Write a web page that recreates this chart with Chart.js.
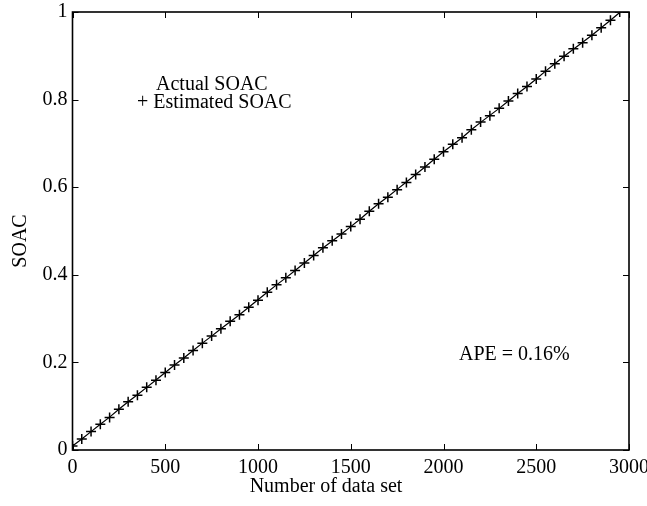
<!DOCTYPE html>
<html>
<head>
<meta charset="utf-8">
<script src="https://cdn.jsdelivr.net/npm/chart.js@4/dist/chart.umd.min.js"></script>
<style>
  html, body { margin: 0; padding: 0; background: #fff; }
  canvas { display: block; }
</style>
</head>
<body>
<canvas id="c" width="647" height="506"></canvas>
<script>
// ---- data ----
const dataSetNumber = [0,50,100,150,200,250,300,350,400,450,500,550,600,650,700,750,800,850,900,950,
  1000,1050,1100,1150,1200,1250,1300,1350,1400,1450,1500,1550,1600,1650,1700,1750,1800,1850,1900,1950,
  2000,2050,2100,2150,2200,2250,2300,2350,2400,2450,2500,2550,2600,2650,2700,2750,2800,2850,2900,2950];
const actualSOAC = [0.009,0.025,0.042,0.059,0.075,0.093,0.110,0.126,0.143,0.160,0.177,0.194,0.210,0.227,0.244,0.260,0.277,0.293,0.309,0.326,
  0.343,0.360,0.377,0.393,0.410,0.427,0.444,0.461,0.477,0.493,0.510,0.527,0.545,0.562,0.578,0.595,0.612,0.629,0.646,0.664,
  0.681,0.697,0.713,0.731,0.748,0.764,0.780,0.797,0.814,0.830,0.847,0.865,0.882,0.899,0.915,0.931,0.947,0.964,0.981,0.999];
const estimatedSOAC = [0.009,0.025,0.042,0.059,0.074,0.093,0.110,0.125,0.143,0.159,0.177,0.194,0.210,0.227,0.244,0.260,0.277,0.294,0.309,0.326,
  0.342,0.360,0.377,0.393,0.410,0.427,0.444,0.462,0.478,0.493,0.510,0.527,0.545,0.562,0.577,0.594,0.611,0.629,0.646,0.664,
  0.681,0.698,0.713,0.731,0.749,0.763,0.780,0.797,0.814,0.830,0.847,0.865,0.882,0.899,0.916,0.930,0.947,0.964,0.981,1.000];
const xTickValues = [0,500,1000,1500,2000,2500,3000];
const yTickValues = [0,0.2,0.4,0.6,0.8,1];
const seriesNames = ['Actual SOAC', 'Estimated SOAC'];
const xTitle = 'Number of data set';
const yTitle = 'SOAC';
const apeText = 'APE = 0.16%';

const FONT = "'Liberation Serif', 'Times New Roman', serif";
const FS = 20;

const toXY = (ys) => dataSetNumber.map((x, i) => ({ x: x, y: ys[i] }));

const boxPlugin = {
  id: 'boxTicks',
  afterDatasetsDraw(chart) {
    const { ctx, chartArea: a, scales } = chart;
    ctx.save();
    ctx.strokeStyle = '#000';
    ctx.lineWidth = 1.6;
    ctx.strokeRect(a.left, a.top, a.right - a.left, a.bottom - a.top);
    ctx.lineWidth = 1;
    const L = 6;
    ctx.beginPath();
    xTickValues.forEach(v => {
      const px = Math.round(scales.x.getPixelForValue(v)) + 0.5;
      ctx.moveTo(px, a.bottom); ctx.lineTo(px, a.bottom - L);
      ctx.moveTo(px, a.top); ctx.lineTo(px, a.top + L);
    });
    yTickValues.forEach(v => {
      const py = Math.round(scales.y.getPixelForValue(v)) + 0.5;
      ctx.moveTo(a.left, py); ctx.lineTo(a.left + L, py);
      ctx.moveTo(a.right, py); ctx.lineTo(a.right - L, py);
    });
    ctx.stroke();

    // legend text, annotation, axis titles
    ctx.fillStyle = '#000';
    ctx.font = FS + 'px ' + FONT;
    ctx.textBaseline = 'middle';
    ctx.textAlign = 'left';
    ctx.fillText(seriesNames[0], 156, 85);
    ctx.fillText('+ ' + seriesNames[1], 137, 103);
    ctx.fillText(apeText, 459, 355);

    ctx.textAlign = 'center';
    ctx.fillText(xTitle, 326, 487);
    ctx.save();
    ctx.translate(21, 241);
    ctx.rotate(-Math.PI / 2);
    ctx.fillText(yTitle, 0, 0);
    ctx.restore();
    ctx.restore();
  }
};

new Chart(document.getElementById('c'), {
  type: 'line',
  data: {
    datasets: [
      {
        label: seriesNames[0],
        data: toXY(actualSOAC),
        borderColor: '#000',
        borderWidth: 1.2,
        pointRadius: 0,
        fill: false,
        tension: 0
      },
      {
        label: seriesNames[1],
        data: toXY(estimatedSOAC),
        showLine: false,
        pointStyle: 'cross',
        pointRadius: 5,
        pointBorderWidth: 1.5,
        pointBorderColor: '#000',
        borderColor: '#000',
        backgroundColor: '#000'
      }
    ]
  },
  options: {
    responsive: false,
    animation: false,
    devicePixelRatio: 1,
    layout: { padding: { left: 0, right: 18, top: 12, bottom: 0 } },
    plugins: { legend: { display: false }, tooltip: { enabled: false } },
    scales: {
      x: {
        type: 'linear',
        min: 0, max: 3000,
        afterBuildTicks: (s) => { s.ticks = xTickValues.map(v => ({ value: v })); },
        afterFit: (s) => { s.height = 56; s.paddingLeft = 0; s.paddingRight = 0; },
        grid: { display: false, drawTicks: false },
        border: { display: false },
        ticks: {
          color: '#000', padding: 6, maxRotation: 0,
          font: { family: FONT, size: FS },
          callback: (v) => String(v)
        },
        title: { display: false, text: xTitle }
      },
      y: {
        type: 'linear',
        min: 0, max: 1,
        afterBuildTicks: (s) => { s.ticks = yTickValues.map(v => ({ value: v })); },
        afterFit: (s) => { s.width = 72.5; s.paddingTop = 0; s.paddingBottom = 0; },
        grid: { display: false, drawTicks: false },
        border: { display: false },
        ticks: {
          color: '#000', padding: 5,
          font: { family: FONT, size: FS },
          callback: (v) => String(v)
        },
        title: { display: false, text: yTitle }
      }
    }
  },
  plugins: [boxPlugin]
});
</script>
</body>
</html>
